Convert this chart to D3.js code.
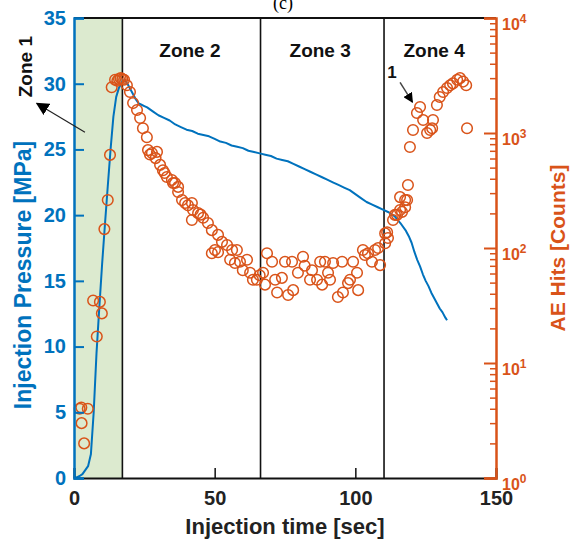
<!DOCTYPE html>
<html><head><meta charset="utf-8">
<script src="https://cdn.jsdelivr.net/npm/d3@7"></script>
<style>
html,body{margin:0;padding:0;background:#fff;}
svg{display:block;}
text{font-family:"Liberation Sans",Arial,sans-serif;}
</style></head>
<body>
<svg id="chart" width="576" height="543"></svg>
<script>
// ---------------- data ----------------
const pressureTime = [0,1,2,3,4,5,6,7,8,9,10,11,12,13,14,15,16,17,18,19,20,21,22,23,24,25,26,28,30,32,34,36,38,40,42,44,46,48,50,52,54,56,58,60,62,64,66,68,70,72,74,76,78,80,82,84,86,88,90,92,94,96,98,100,102,104,106,108,110,112,114,116,118,119,120,121,122,123,124,125,126,127,128,129,130,131,132,132.6];
const pressure = [0,0.05,0.15,0.3,0.6,0.9,1.8,5.0,9.5,13.0,16.3,19.3,22.2,25.0,27.5,29.0,29.7,30.1,30.3,30.0,29.6,29.2,28.8,28.5,28.4,28.3,28.2,27.9,27.6,27.4,27.2,26.9,26.7,26.5,26.4,26.2,26.1,26.0,25.8,25.6,25.5,25.3,25.2,25.1,24.9,24.8,24.7,24.6,24.5,24.3,24.2,24.1,23.9,23.7,23.5,23.3,23.1,22.9,22.7,22.5,22.3,22.1,21.9,21.6,21.3,21.0,20.8,20.6,20.4,20.2,19.9,19.4,18.8,18.4,17.9,17.2,16.6,16.1,15.5,15.0,14.6,14.1,13.7,13.3,12.9,12.6,12.2,12.0];

const aeTime = [2.0,2.6,4.9,2.7,3.6,6.8,8.1,9.2,9.9,10.8,12.0,12.8,13.4,14.6,15.4,16.0,16.6,17.2,
  17.8,18.8,19.9,21.0,22.4,23.5,24.5,25.9,26.3,27.0,27.7,29.5,29.0,30.6,31.6,32.2,33.0,34.8,35.2,35.9,37.0,37.0,38.4,39.5,40.5,41.9,42.3,41.9,44.1,45.0,45.9,47.6,49.0,51.2,52.6,50.1,51.2,49.0,54.4,56.2,57.9,55.5,57.2,59.0,61.5,60.0,62.6,63.6,65.0,66.0,
  67.2,67.9,68.6,70.4,71.5,72.2,73.9,75.0,77.5,76.1,77.9,79.6,81.4,82.0,83.9,84.6,86.4,87.5,88.2,89.2,90.3,91.0,92.1,93.8,95.3,95.6,97.4,98.1,99.2,100.6,101.0,102.7,103.4,104.5,105.9,107.0,108.1,108.8,110.6,110.6,
  111.3,111.6,113.4,114.1,114.8,115.9,116.6,115.9,117.7,117.7,118.4,118.7,119.4,120.5,121.9,123.0,124.1,125.5,126.6,127.3,127.6,129.0,130.0,131.2,132.6,133.7,134.7,136.2,137.2,138.3,139.4,139.7];
const aeHits = [4.0,4.1,4.0,3.0,2.0,35,17,34,27,146,261,645,2500,2900,2850,2950,3000,2950,
  2900,2600,2270,1820,1585,1350,1100,920,710,650,670,685,605,528,475,449,414,390,368,368,340,307,261,246,235,246,214,175,201,195,183,165,143,130,113,96,92,90,106,96,96,79,74,76,79,64,61,53,53,58,
  61,48,90,76,53,41,55,76,76,39,43,61,84,70,53,64,53,76,48,76,61,53,74,37.5,76,41,49.5,53,76,61,43,96,87,90,76,96,100,71,110,134,
  137,122,175,194,194,214,206,277,226,261,261,353,755,1062,1493,1683,1297,1000,1062,1100,1297,1750,2058,2270,2460,2600,2700,2900,3000,2800,2600,1100];

const zoneBounds = [17.2, 66.3, 110.2];
const zoneNames = ["Zone 1","Zone 2","Zone 3","Zone 4"];
const zoneLabelX = [-17.4, 41.2, 87.5, 128.0];   // seconds
const zoneLabelY = [31.3, 32.6, 32.6, 32.6];     // MPa
const xTicks = [0,50,100,150];
const yTicks = [0,5,10,15,20,25,30,35];
const rightTicks = [1,10,100,1000,10000];
const rightExp = ["0","1","2","3","4"];
// annotation arrows in data units (sec, MPa)
const arrowZone1 = [[3.9,26.3],[-13.2,28.5]];
const arrowOne = [[115.9,30.1],[120.3,28.6]];
const oneLabel = [113.0,30.9];

// ---------------- layout ----------------
const W=576,H=543;
const m={l:74,r:80,t:18,b:65};
const x0=m.l,x1=W-m.r,y0=m.t,y1=H-m.b;
const blue="#0072BD", orange="#D95319";

const svg=d3.select("#chart");
const x=d3.scaleLinear().domain([0,150]).range([x0,x1]);
const y=d3.scaleLinear().domain([0,35]).range([y1,y0]);
const yr=d3.scaleLog().domain([1,10000]).range([y1,y0]);

const defs=svg.append("defs");
defs.append("marker").attr("id","ah").attr("viewBox","0 0 10 10").attr("refX",9).attr("refY",5)
  .attr("markerWidth",10).attr("markerHeight",10).attr("markerUnits","userSpaceOnUse").attr("orient","auto")
  .append("path").attr("d","M0,0 L10,5 L0,10 Z").attr("fill","#000");
defs.append("marker").attr("id","ah2").attr("viewBox","0 0 10 10").attr("refX",9).attr("refY",5)
  .attr("markerWidth",13).attr("markerHeight",13).attr("markerUnits","userSpaceOnUse").attr("orient","auto")
  .append("path").attr("d","M0,0 L10,5 L0,10 Z").attr("fill","#000");

// title (clipped at top)
svg.append("text").attr("x",283).attr("y",9).attr("text-anchor","middle")
  .style("font-family","'Liberation Serif','Times New Roman',serif").style("font-size","18px").text("(c)");

// zone 1 shading
svg.append("rect").attr("x",x(0)).attr("y",y0).attr("width",x(zoneBounds[0])-x(0)).attr("height",y1-y0)
  .attr("fill","#dceacf");

// zone boundaries
svg.selectAll("line.zone").data(zoneBounds).enter().append("line").attr("class","zone")
  .attr("x1",d=>x(d)).attr("x2",d=>x(d)).attr("y1",y0).attr("y2",y1)
  .attr("stroke","#111").attr("stroke-width",1.6);

// pressure line
const pts=pressureTime.map((t,i)=>[t,pressure[i]]);
svg.append("path").datum(pts).attr("fill","none").attr("stroke",blue).attr("stroke-width",2)
  .attr("stroke-linejoin","round")
  .attr("d",d3.line().x(d=>x(d[0])).y(d=>y(d[1])));

// AE hits circles
const ae=aeTime.map((t,i)=>[t,aeHits[i]]);
svg.selectAll("circle.ae").data(ae).enter().append("circle").attr("class","ae")
  .attr("cx",d=>x(d[0])).attr("cy",d=>yr(d[1])).attr("r",5.3)
  .attr("fill","none").attr("stroke",orange).attr("stroke-width",1.5);

// frame top
svg.append("line").attr("x1",x0).attr("x2",x1).attr("y1",y0).attr("y2",y0).attr("stroke","#111").attr("stroke-width",2);

// bottom axis
const gx=svg.append("g").attr("transform",`translate(0,${y1})`)
  .call(d3.axisBottom(x).tickValues(xTicks).tickSize(-10).tickPadding(13).tickFormat(d3.format("d")));
gx.select(".domain").attr("stroke","#111").attr("stroke-width",2);
gx.selectAll(".tick line").attr("stroke","#111").attr("stroke-width",1.5);
gx.selectAll("text").attr("fill","#222").style("font-size","20px").style("font-weight","bold");

// left axis
const gy=svg.append("g").attr("transform",`translate(${x0},0)`)
  .call(d3.axisLeft(y).tickValues(yTicks).tickSize(-10).tickPadding(8).tickFormat(d3.format("d")));
gy.select(".domain").attr("stroke",blue).attr("stroke-width",2.5);
gy.selectAll(".tick line").attr("stroke",blue).attr("stroke-width",2);
gy.selectAll("text").attr("fill",blue).style("font-size","20px").style("font-weight","bold");

// right log axis: minor ticks
const minor=yr.ticks().filter(v=>!rightTicks.includes(v));
const gm=svg.append("g").attr("transform",`translate(${x1},0)`)
  .call(d3.axisRight(yr).tickValues(minor).tickSize(-6).tickFormat(""));
gm.select(".domain").remove();
gm.selectAll(".tick line").attr("stroke",orange).attr("stroke-width",1.5);

const gr=svg.append("g").attr("transform",`translate(${x1},0)`)
  .call(d3.axisRight(yr).tickValues(rightTicks).tickSize(-12).tickPadding(6).tickFormat(""));
gr.select(".domain").attr("stroke",orange).attr("stroke-width",2.5);
gr.selectAll(".tick line").attr("stroke",orange).attr("stroke-width",2);
gr.selectAll(".tick text").each(function(d,i){
  const t=d3.select(this);
  t.text(null).attr("fill",orange).attr("dy","0.72em").attr("x",6).style("font-size","16px").style("font-weight","bold");
  t.append("tspan").text("10");
  t.append("tspan").attr("dy","-0.6em").style("font-size","12px").text(rightExp[i]);
});

// axis titles
svg.append("text").attr("x",285).attr("y",534).attr("text-anchor","middle")
  .attr("fill","#222").style("font-size","22px").style("font-weight","bold").text("Injection time [sec]");
svg.append("text").attr("transform",`translate(31,275) rotate(-90)`).attr("text-anchor","middle")
  .attr("fill",blue).style("font-size","23px").style("font-weight","bold").text("Injection Pressure [MPa]");
svg.append("text").attr("transform",`translate(565,${(y0+y1)/2}) rotate(-90)`).attr("text-anchor","middle")
  .attr("fill",orange).style("font-size","21px").style("font-weight","bold").text("AE Hits [Counts]");

// zone labels
zoneNames.forEach((n,i)=>{
  const t=svg.append("text").attr("text-anchor","middle").attr("fill","#111")
    .style("font-size","19px").style("font-weight","bold").text(n);
  if(i===0) t.attr("transform",`translate(${x(zoneLabelX[i])+7},${y(zoneLabelY[i])}) rotate(-90)`);
  else t.attr("x",x(zoneLabelX[i])).attr("y",y(zoneLabelY[i])+7);
});

// annotation arrows
svg.append("line").attr("x1",x(arrowZone1[0][0])).attr("y1",y(arrowZone1[0][1]))
  .attr("x2",x(arrowZone1[1][0])).attr("y2",y(arrowZone1[1][1]))
  .attr("stroke","#222").attr("stroke-width",1.2).attr("marker-end","url(#ah2)");
svg.append("line").attr("x1",x(arrowOne[0][0])).attr("y1",y(arrowOne[0][1]))
  .attr("x2",x(arrowOne[1][0])).attr("y2",y(arrowOne[1][1]))
  .attr("stroke","#444").attr("stroke-width",1.5).attr("marker-end","url(#ah)");
svg.append("text").attr("x",x(oneLabel[0])).attr("y",y(oneLabel[1])+6).attr("text-anchor","middle")
  .attr("fill","#111").style("font-size","17px").style("font-weight","bold").text("1");
</script>
</body></html>
